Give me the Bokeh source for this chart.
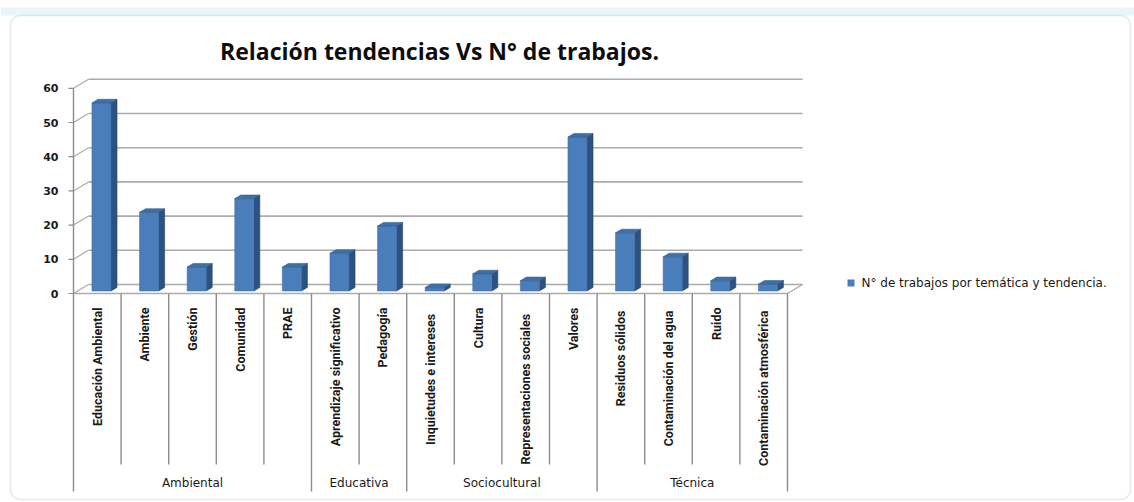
import math
from bokeh.plotting import figure
from bokeh.models import Range1d, BoxAnnotation
from bokeh.embed import file_html
from bokeh.resources import INLINE
from bokeh.core.properties import value

# ---------------- data ----------------
title_text = "Relación tendencias Vs N° de trabajos."
categories = ["Educación Ambiental", "Ambiente", "Gestión", "Comunidad", "PRAE",
              "Aprendizaje significativo", "Pedagogía",
              "Inquietudes  e  intereses", "Cultura", "Representaciones   sociales", "Valores",
              "Residuos  sólidos", "Contaminación  del agua", "Ruido", "Contaminación  atmosférica"]
groups = ["Ambiental", "Educativa", "Sociocultural", "Técnica"]
group_sizes = [5, 2, 4, 4]
counts = [55, 23, 7, 27, 7, 11, 19, 1, 5, 3, 45, 17, 10, 3, 2]
y_ticks = [0, 10, 20, 30, 40, 50, 60]
y_tick_labels = ["0", "10", "20", "30", "40", "50", "60"]
legend_label = "N° de trabajos por temática y tendencia."

# ---------------- geometry ----------------
W, H = 1134, 502
X0 = 73.0      # canvas x of category axis start
Y0 = 293.0     # canvas y of value 0 (front plane)
CW = 47.6      # px per category
SY = 3.42      # px per unit
DX = 15.0 / CW # full depth offset (data units)
DY = 9.0 / SY
n = len(categories)

p = figure(width=W, height=H, output_backend="svg", toolbar_location=None,
           x_range=Range1d(-X0 / CW, (W - X0) / CW),
           y_range=Range1d(-(H - Y0) / SY, Y0 / SY),
           x_axis_location=None, y_axis_location=None,
           min_border=0, min_border_left=0, min_border_right=0,
           min_border_top=0, min_border_bottom=0)
p.extra_x_ranges = {"px": Range1d(0, W)}
p.extra_y_ranges = {"px": Range1d(H, 0)}
p.grid.visible = False
p.outline_line_color = None
p.background_fill_color = "white"
p.border_fill_color = "white"

grid_col = "#ababab"
axis_col = "#8c8c8c"

# spreadsheet strip above the chart
p.quad(left=[0], right=[W], top=[7], bottom=[15], fill_color="#eaf5f8", line_color=None,
       x_range_name="px", y_range_name="px")

# back wall gridlines
p.segment(x0=[DX] * len(y_ticks), y0=[t + DY for t in y_ticks],
          x1=[n + DX] * len(y_ticks), y1=[t + DY for t in y_ticks],
          line_color=grid_col, line_width=1.6)
# left wall diagonals
p.segment(x0=[0] * len(y_ticks), y0=y_ticks,
          x1=[DX] * len(y_ticks), y1=[t + DY for t in y_ticks],
          line_color=grid_col, line_width=1.2)
# floor front edge and right diagonal
p.segment(x0=[0, n], y0=[0, 0], x1=[n, n + DX], y1=[0, DY],
          line_color=grid_col, line_width=1.4)
# value axis line and ticks
p.segment(x0=[0], y0=[0], x1=[0], y1=[y_ticks[-1]], line_color=axis_col, line_width=1.4)
p.segment(x0=[-5 / CW] * len(y_ticks), y0=y_ticks, x1=[0] * len(y_ticks), y1=y_ticks,
          line_color=axis_col, line_width=1.2)
p.text(x=[-15 / CW] * len(y_ticks), y=y_ticks, text=y_tick_labels,
       text_align="right", text_baseline="middle",
       text_font=value("DejaVu Sans"), text_font_style="bold",
       text_font_size="11px", text_color="#1a1a1a")

# ---------------- 3D bars ----------------
d0, bd, hw = 0.28, 0.40, 0.20
xl = [i + 0.5 - hw + d0 * DX for i in range(n)]
xr = [i + 0.5 + hw + d0 * DX for i in range(n)]
yb = [d0 * DY] * n
yt = [v + d0 * DY for v in counts]
ox, oy = bd * DX, bd * DY

side_xs = [[r, r + ox, r + ox, r] for r in xr]
side_ys = [[b, b + oy, t + oy, t] for b, t in zip(yb, yt)]
top_xs = [[l, l + ox, r + ox, r] for l, r in zip(xl, xr)]
top_ys = [[t, t + oy, t + oy, t] for t in yt]

p.patches(xs=side_xs, ys=side_ys, fill_color="#2b5282", line_color="#26486f", line_width=0.6)
p.quad(left=xl, right=xr, bottom=yb, top=yt, fill_color="#4a7ebb", line_color="#3f6ea6",
       line_width=0.6)
p.patches(xs=top_xs, ys=top_ys, fill_color="#3e6fa8", line_color="#34608f", line_width=0.6)

# ---------------- category axis ----------------
bounds = [0]
for s in group_sizes:
    bounds.append(bounds[-1] + s)
sep_x = list(range(n + 1))
sep_bottom = [491 if i in bounds else 464 for i in sep_x]
p.segment(x0=sep_x, y0=[Y0] * len(sep_x), x1=sep_x, y1=sep_bottom,
          line_color=axis_col, line_width=1.4, y_range_name="px")

p.text(x=[i + 0.5 for i in range(n)], y=[307] * n, text=categories,
       angle=math.pi / 2, text_align="right", text_baseline="middle",
       text_font=value("Roboto"), text_font_style="bold", text_font_size="12.5px",
       text_color="#1a1a1a", y_range_name="px")

gx = [(bounds[k] + bounds[k + 1]) / 2 for k in range(len(groups))]
p.text(x=gx, y=[482] * len(groups), text=groups, text_align="center",
       text_baseline="middle", text_font=value("DejaVu Sans"), text_font_size="12px",
       text_color="#1a1a1a", y_range_name="px")

# ---------------- title ----------------
p.text(x=[439], y=[50], text=[title_text], text_align="center", text_baseline="alphabetic",
       text_font=value("Open Sans"), text_font_style="bold", text_font_size="23px",
       text_color="#0d0d0d", x_range_name="px", y_range_name="px")

# ---------------- legend ----------------
p.rect(x=[850.5], y=[282.5], width=7, height=7, fill_color="#4a7ebb", line_color=None,
       x_range_name="px", y_range_name="px")
p.text(x=[861], y=[282.5], text=[legend_label], text_align="left", text_baseline="middle",
       text_font=value("DejaVu Sans"), text_font_size="12px", text_color="#1a1a1a",
       x_range_name="px", y_range_name="px")

# ---------------- chart border ----------------
p.add_layout(BoxAnnotation(left=10, right=1130, top=15, bottom=499,
                           x_range_name="px", y_range_name="px",
                           fill_color=None, line_color="#b5b5b5", line_width=1.5,
                           border_radius=10))

open("out.html", "w").write(file_html(p, INLINE))
